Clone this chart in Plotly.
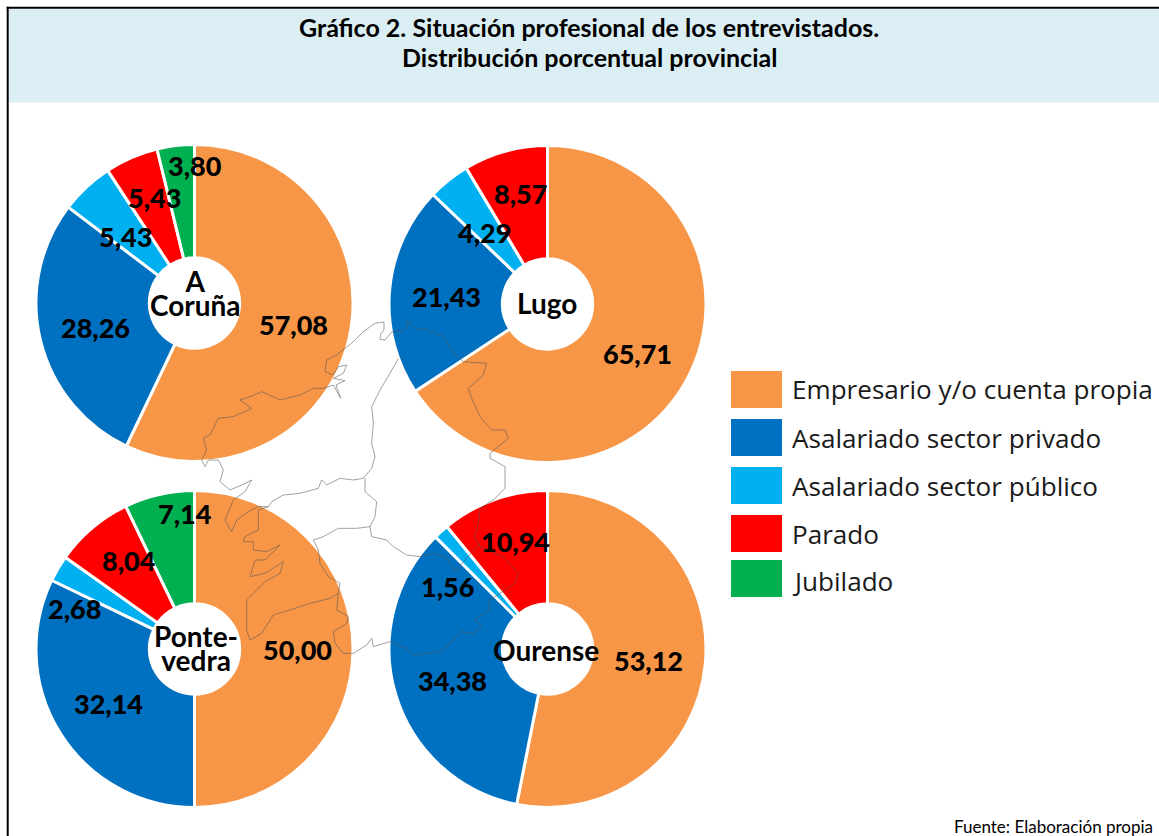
import plotly.graph_objects as go

W, H = 1159, 836

categories = ["Empresario y/o cuenta propia", "Asalariado sector privado",
              "Asalariado sector público", "Parado", "Jubilado"]
colors = ["#F79646", "#0070C0", "#00B0F0", "#FF0000", "#00B050"]

coruna = [57.08, 28.26, 5.43, 5.43, 3.80]
lugo = [65.71, 21.43, 4.29, 8.57, 0]
pontevedra = [50.00, 32.14, 2.68, 8.04, 7.14]
ourense = [53.12, 34.38, 1.56, 10.94, 0]

title_lines = ["Gráfico 2. Situación profesional de los entrevistados.",
               "Distribución porcentual provincial"]
source = "Fuente: Elaboración propia"

# province: values, centre name lines, name centre (px), pie centre (px), value label centres (px)
provinces = [
    (coruna, ["A", "Coruña"], (195, 293), (194.5, 303),
     [(293, 325), (96, 327), (125, 236), (154, 197), (195, 166)]),
    (lugo, ["Lugo"], (547, 303), (547.5, 304),
     [(637, 353), (446, 296), (484, 233), (520, 194), None]),
    (pontevedra, ["Ponte-", "vedra"], (196, 648), (194.5, 649),
     [(297, 649), (108, 703), (74, 608), (129, 560), (185, 513)]),
    (ourense, ["Ourense"], (546, 650), (547.5, 649),
     [(648, 660), (452, 680), (447, 586), (515, 541), None]),
]

map_outer = [(650,28),(655,45),(640,62),(605,66),(585,90),(570,88),(572,72),(582,60),(582,36),(555,40),(520,65),(490,95),
             (465,115),(440,135),(410,150),(405,185),(430,195),(445,170),(470,165),(460,190),(430,205),(465,212),(438,225),
             (452,265),(430,225),(400,235),(370,235),(330,255),(270,270),(215,245),(180,260),(150,270),(185,295),(130,320),
             (85,325),(75,345),(60,375),(40,385),(50,420),(35,450),(45,470),(55,450),(85,450),(100,480),(90,515),(120,540),
             (155,525),(185,510),(165,545),(130,570),(105,630),(125,665),(140,630),(175,605),(205,590),(235,590),(205,600),
             (205,660),(165,680),(160,695),(190,695),(190,720),(230,725),(270,705),(225,750),(195,750),(180,800),(225,790),
             (280,755),(270,790),(225,815),(190,850),(170,870),(170,960),(180,990),(215,970),(250,915),(300,900),(360,880),
             (420,865),(445,850),(440,900),(475,920),(470,940),(430,965),(435,1000),(460,1030),(490,1030),(530,1005),(545,985),
             (550,1010),(600,995),(650,1015),(670,1035),(720,1030),(760,1020),(815,965),(850,970),(875,950),(855,930),(895,900),
             (900,870),(930,850),(975,820),(985,790),(940,740),(870,710),(855,680),(865,640),(870,595),(910,570),(945,535),
             (945,470),(900,445),(900,430),(955,385),(945,360),(905,360),(870,320),(845,265),(835,235),(880,195),(890,160),
             (820,155),(790,130),(760,80),(700,55),(680,60),(650,28)]
map_border_a = [(625,145),(600,190),(570,240),(545,290),(550,340),(545,400),(555,440),(545,475),(520,505),(490,510),(450,505),
                (410,525),(395,510),(385,535),(330,550),(280,555),(245,575),(235,590)]
map_border_b = [(525,505),(525,545),(560,575),(555,620),(540,650),(500,655),(445,655),(400,680),(370,690),(385,720),(390,760),
                (415,800),(450,820),(445,850)]
map_border_c = [(540,650),(545,680),(590,690),(610,710),(650,735),(690,740),(730,730),(770,745),(795,785),(870,700)]


def px(x):
    return x / W


def py(y):
    return 1 - y / H


def zpath(points):
    return "M " + " L ".join(f"{px(190 + a / 3):.5f} {py(310 + b / 3):.5f}" for a, b in points)


fig = go.Figure()
R = 158.5
for values, _, _, (cx, cy), _ in provinces:
    fig.add_trace(go.Pie(
        labels=categories, values=values, sort=False, direction="clockwise", rotation=0,
        hole=0.285, textinfo="none", showlegend=False,
        marker=dict(colors=colors, line=dict(color="white", width=3)),
        domain=dict(x=[px(cx - R), px(cx + R)], y=[py(cy + R), py(cy - R)]),
    ))

shapes = [
    dict(type="rect", xref="paper", yref="paper", x0=px(8.7), x1=1, y0=py(102.5), y1=py(8.7),
         fillcolor="#DAEEF3", line_width=0, layer="below"),
    dict(type="line", xref="paper", yref="paper", x0=px(7.7), x1=px(7.7), y0=0, y1=py(6.7),
         line=dict(color="black", width=2)),
    dict(type="line", xref="paper", yref="paper", x0=px(6.7), x1=1, y0=py(7.7), y1=py(7.7),
         line=dict(color="black", width=2)),
]
for pts in (map_outer, map_border_a, map_border_b, map_border_c):
    shapes.append(dict(type="path", xref="paper", yref="paper", path=zpath(pts), layer="above",
                       line=dict(color="rgba(85,85,85,0.55)", width=1)))

annotations = []


def text(x, y, s, size, family="Lato", xanchor="center", color="black", weight="normal"):
    annotations.append(dict(xref="paper", yref="paper", x=px(x), y=py(y), text=s, showarrow=False,
                            xanchor=xanchor, yanchor="middle", align="center",
                            font=dict(family=family, size=size, color=color, weight=weight)))


text(589, 27, title_lines[0], 25, weight=700)
text(589, 57, title_lines[1], 25, weight=700)
text(1155, 826, source, 17, family="Lato", xanchor="right")

for values, names, (nx, ny), _, positions in provinces:
    if len(names) == 1:
        text(nx, ny, names[0], 28, weight=700)
    else:
        # small base size sets the tight line spacing; the spans set the glyph size
        label = "<br>".join(f'<span style="font-size:28px">{n}</span>' for n in names)
        text(nx, ny, label, 18.5, weight=700)
    for v, pos in zip(values, positions):
        if pos is not None:
            text(pos[0], pos[1], f"{v:.2f}".replace(".", ","), 27, weight=900)

swatch_tops = [371, 419, 467, 515, 560]
legend_centers = [389, 438, 486, 534, 581]
for cat, col, top, yc in zip(categories, colors, swatch_tops, legend_centers):
    shapes.append(dict(type="rect", xref="paper", yref="paper", x0=px(731), x1=px(782), y0=py(top + 37), y1=py(top),
                       fillcolor=col, line_width=0))
    text(790, yc, cat, 26.1, family="Open Sans", xanchor="left", color="#1a1a1a")

fig.update_layout(width=W, height=H, margin=dict(l=0, r=0, t=0, b=0), paper_bgcolor="white",
                  shapes=shapes, annotations=annotations, showlegend=False)
fig.write_html("out.html", config={"displayModeBar": False},
               post_script="document.body.style.margin='0';document.body.style.overflow='hidden';")
